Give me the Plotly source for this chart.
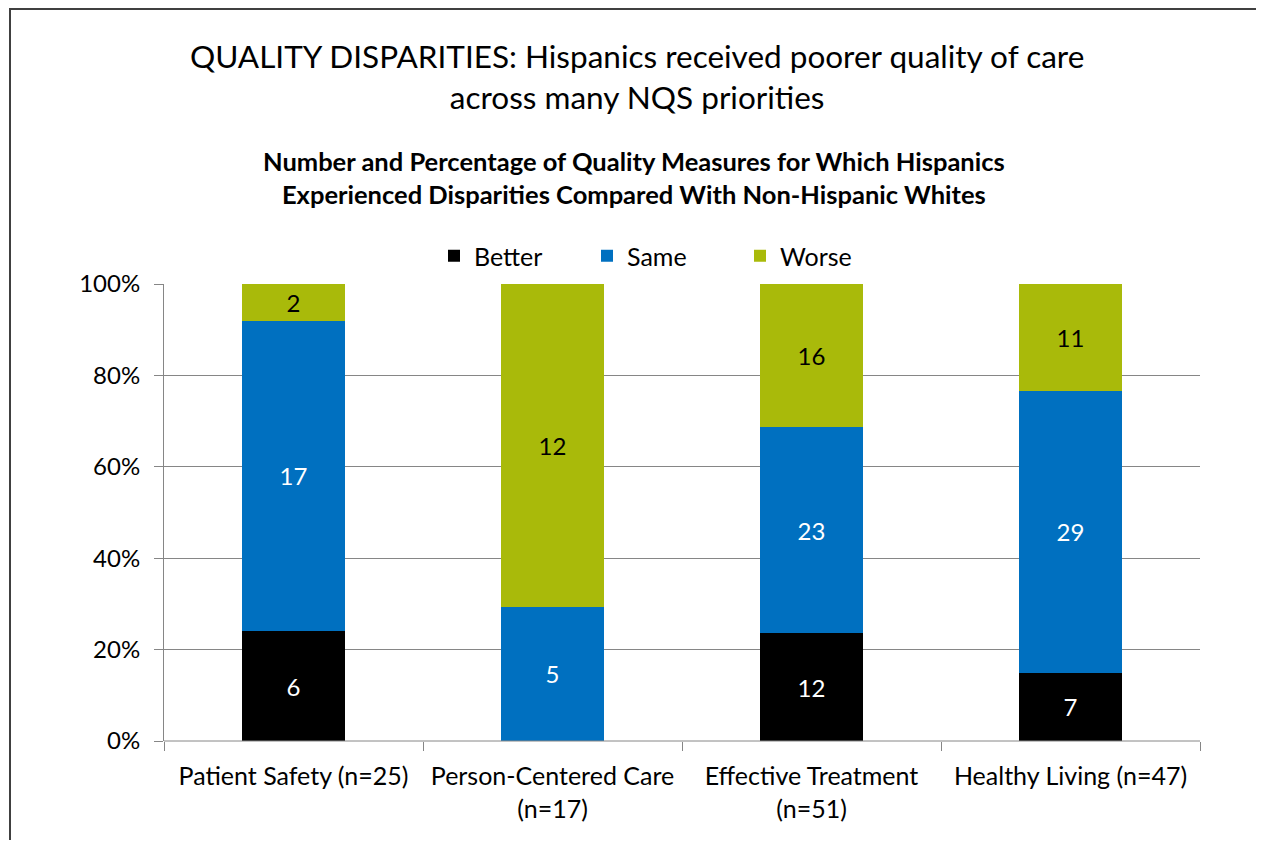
import plotly.graph_objects as go

categories = ["Patient Safety (n=25)", "Person-Centered Care<br>(n=17)",
              "Effective Treatment<br>(n=51)", "Healthy Living (n=47)"]
better = [6, 0, 12, 7]
same = [17, 5, 23, 29]
worse = [2, 12, 16, 11]
series_names = ["Better", "Same", "Worse"]
colors = ["#000000", "#0070C0", "#A9BA0A"]
text_colors = ["#FFFFFF", "#FFFFFF", "#000000"]
y_ticks = [0, 20, 40, 60, 80, 100]
y_tick_labels = ["0%", "20%", "40%", "60%", "80%", "100%"]

FONT = "Lato"
W, H = 1248, 832
L, R, T, B = 156, 56, 276, 99
PW, PH = W - L - R, H - T - B


def px(xpage):
    return (xpage - 8 - L) / PW


def py(ypage):
    return (H - B - (ypage - 8)) / PH


fig = go.Figure()
for name, vals, col, tcol in zip(series_names, [better, same, worse], colors, text_colors):
    fig.add_trace(go.Bar(
        x=categories, y=vals, name=name,
        marker=dict(color=col, line=dict(width=0)),
        text=[str(v) if v else "" for v in vals],
        textposition="inside", insidetextanchor="middle",
        textfont=dict(color=tcol, size=24, family=FONT),
        constraintext="none",
        width=0.4,
    ))

fig.update_layout(
    width=W, height=H,
    barmode="stack", barnorm="percent",
    paper_bgcolor="white", plot_bgcolor="white",
    margin=dict(l=L, r=R, t=T, b=B, autoexpand=False),
    font=dict(family=FONT, size=24, color="#000000"),
    showlegend=True,
    legend=dict(orientation="h", x=px(449 - 15), xanchor="left",
                y=py(256), yanchor="middle", font=dict(size=25, family=FONT),
                traceorder="normal", entrywidth=108, entrywidthmode="pixels"),
    xaxis=dict(showline=False, ticks="outside", tickson="boundaries", ticklen=9,
               tickcolor="#868686", tickfont=dict(size=25, family=FONT),
               tickangle=0, showgrid=False, ticklabelstandoff=18),
    yaxis=dict(range=[0, 100], tickvals=y_ticks, ticktext=y_tick_labels,
               showline=True, linecolor="#868686", linewidth=1,
               ticks="outside", ticklen=9, tickcolor="#868686",
               showgrid=True, gridcolor="#868686", gridwidth=1,
               tickfont=dict(size=24, family=FONT), zeroline=False,
               ticklabelstandoff=9),
    annotations=[
        dict(text="QUALITY DISPARITIES: Hispanics received poorer quality of care<br>across many NQS priorities",
             xref="paper", yref="paper", x=px(637), y=py(77),
             xanchor="center", yanchor="middle", showarrow=False,
             font=dict(size=31.5, family=FONT, color="#000000")),
        dict(text="<b>Number and Percentage of Quality Measures for Which Hispanics<br>Experienced Disparities Compared With Non-Hispanic Whites</b>",
             xref="paper", yref="paper", x=px(634), y=py(178),
             xanchor="center", yanchor="middle", showarrow=False,
             font=dict(size=25.5, family=FONT, color="#000000")),
    ],
    shapes=[
        dict(type="line", xref="paper", yref="paper",
             x0=px(10), x1=px(10), y0=py(840), y1=py(8),
             line=dict(color="#404040", width=2)),
        dict(type="line", xref="paper", yref="paper",
             x0=px(9), x1=px(1256), y0=py(9), y1=py(9),
             line=dict(color="#404040", width=2)),
        dict(type="line", xref="paper", yref="paper", x0=0, x1=1, y0=0, y1=0,
             line=dict(color="#868686", width=1)),
    ],
)

fig.write_html("out.html")
